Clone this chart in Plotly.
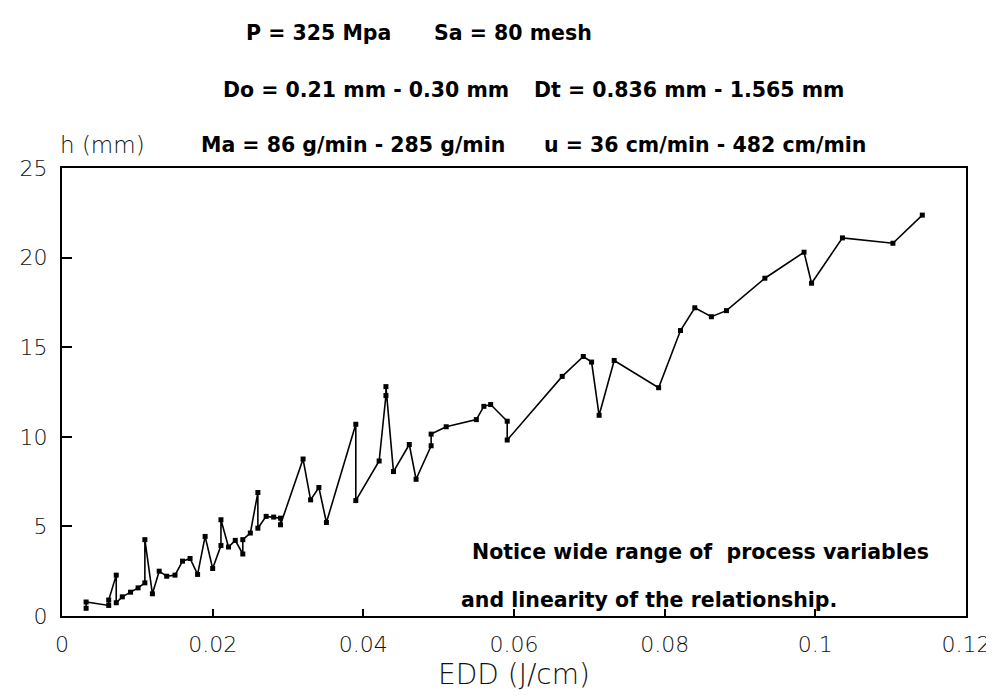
import plotly.graph_objects as go

# ---- data ----
edd = [0.0032, 0.0032, 0.0062, 0.0062, 0.0072, 0.0072, 0.0080, 0.0091, 0.0101, 0.0110,
       0.0110, 0.0120, 0.0129, 0.0139, 0.0150, 0.0160, 0.0170, 0.0180, 0.0190, 0.0200,
       0.0211, 0.0211, 0.0221, 0.0230, 0.0240, 0.0240, 0.0250, 0.0260, 0.0260, 0.0271,
       0.0281, 0.0290, 0.0290, 0.0320, 0.0330, 0.0341, 0.0351, 0.0390, 0.0390, 0.0421,
       0.0430, 0.0430, 0.0440, 0.0461, 0.0470, 0.0490, 0.0490, 0.0510, 0.0550, 0.0560,
       0.0569, 0.0591, 0.0591, 0.0664, 0.0692, 0.0703, 0.0713, 0.0733, 0.0792, 0.0821,
       0.0840, 0.0862, 0.0882, 0.0933, 0.0985, 0.0995, 0.1036, 0.1103, 0.1142]
h_mm = [0.43, 0.78, 0.59, 0.89, 2.28, 0.74, 1.07, 1.33, 1.57, 1.85,
        4.26, 1.24, 2.50, 2.22, 2.28, 3.06, 3.21, 2.32, 4.44, 2.65,
        3.93, 5.37, 3.85, 4.22, 3.46, 4.26, 4.63, 6.89, 4.90, 5.56,
        5.52, 5.46, 5.09, 8.76, 6.48, 7.17, 5.22, 10.70, 6.44, 8.65,
        12.30, 12.80, 8.06, 9.57, 7.63, 9.50, 10.15, 10.56, 10.96, 11.70,
        11.80, 10.87, 9.82, 13.37, 14.48, 14.17, 11.20, 14.26, 12.74, 15.93,
        17.20, 16.70, 17.04, 18.85, 20.30, 18.57, 21.10, 20.80, 22.37]

x_ticks = [0, 0.02, 0.04, 0.06, 0.08, 0.1, 0.12]
x_tick_text = ["0", "0.02", "0.04", "0.06", "0.08", "0.1", "0.12"]
y_ticks = [0, 5, 10, 15, 20, 25]
y_tick_text = ["0", "5", "10", "15", "20", "25"]

# (text, x pixel, anchor, y pixel)
header_parts = [
    ("P = 325 Mpa", 236, "left", 25),
    ("Sa = 80 mesh", 590, "right", 25),
    ("Do = 0.21 mm - 0.30 mm", 213, "left", 82),
    ("Dt = 0.836 mm - 1.565 mm", 846, "right", 82),
    ("Ma = 86 g/min - 285 g/min", 191, "left", 137),
    ("u = 36 cm/min - 482 cm/min", 868, "right", 137),
    ("Notice wide range of  process variables", 465, "left", 544),
    ("and linearity of the relationship.", 454, "left", 592),
]

# ---- layout geometry (pixels) ----
W, H = 994, 697
L, R, T, B = 52, 967, 160, 608


def px(xp):
    return (xp - L) / (R - L)


def py(yp):
    return (B - yp) / (B - T)


thin = dict(family="DejaVu Sans", size=22, color="#111", weight=200)
bold = dict(family="DejaVu Sans", size=20.5, color="#000", weight="bold")

fig = go.Figure()
fig.add_trace(go.Scatter(
    x=edd, y=h_mm, mode="lines+markers",
    line=dict(color="black", width=1.6),
    marker=dict(symbol="square", size=5, color="black"),
    showlegend=False, hoverinfo="skip",
))

annotations = []
for txt, xp, anc, yc in header_parts:
    annotations.append(dict(text=txt, x=px(xp), y=py(yc), xref="paper", yref="paper",
                            xanchor=anc, yanchor="middle", showarrow=False, font=bold))
annotations.append(dict(text="h (mm)", x=px(48), y=py(137), xref="paper", yref="paper",
                        xanchor="left", yanchor="middle", showarrow=False,
                        font=dict(family="DejaVu Sans", size=23, color="#111", weight=200)))
annotations.append(dict(text="EDD (J/cm)", x=px(509), y=py(666), xref="paper", yref="paper",
                        xanchor="center", yanchor="middle", showarrow=False, borderpad=0,
                        font=dict(family="DejaVu Sans", size=28, color="#111", weight=200)))

fig.update_layout(
    width=W, height=H,
    margin=dict(l=L, r=W - R, t=T, b=H - B, pad=0),
    paper_bgcolor="white", plot_bgcolor="white",
    annotations=annotations,
    xaxis=dict(range=[0, 0.12], tickvals=x_ticks, ticktext=x_tick_text,
               showgrid=False, zeroline=False, showline=True, linecolor="black",
               linewidth=2, mirror=True, ticks="inside", ticklen=7, tickwidth=1.5,
               tickcolor="black", tickfont=thin, ticklabelstandoff=8),
    yaxis=dict(range=[0, 25], tickvals=y_ticks, ticktext=y_tick_text,
               showgrid=False, zeroline=False, showline=True, linecolor="black",
               linewidth=2, mirror=True, ticks="inside", ticklen=10, tickwidth=1.5,
               tickcolor="black", tickfont=thin, ticklabelstandoff=8),
)

fig.write_html("out.html")
